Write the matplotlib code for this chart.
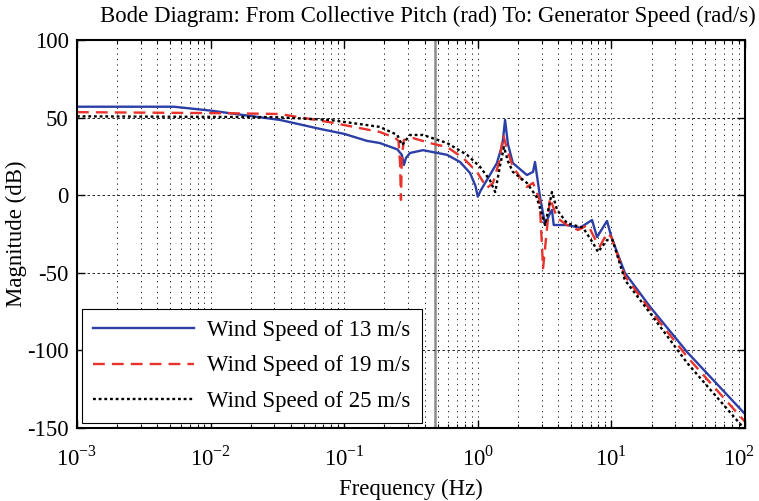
import matplotlib
matplotlib.use("Agg")
import matplotlib.pyplot as plt
import matplotlib.transforms as mtransforms
from matplotlib.ticker import LogLocator, FixedLocator, NullFormatter
import numpy as np

plt.rcParams['font.family'] = 'Liberation Serif'
plt.rcParams['mathtext.fontset'] = 'custom'
plt.rcParams['mathtext.rm'] = 'Liberation Serif'
plt.rcParams['axes.unicode_minus'] = False

# frequency (Hz) / magnitude (dB)
f_13 = [0.001, 0.0053, 0.01, 0.02, 0.033, 0.066, 0.1, 0.148, 0.185, 0.25, 0.27, 0.28,
        0.29, 0.311, 0.389, 0.589, 0.736, 0.875, 0.96, 1.0, 1.05, 1.17, 1.39, 1.53,
        1.60, 1.68, 1.83, 2.33, 2.59, 2.68, 2.92, 3.19, 3.45, 3.59, 3.7, 4.65, 5.82,
        7.16, 7.8, 9.27, 10.0, 12.6, 19.5, 36.8, 100]
m_13 = [57, 57, 54.5, 51, 48.5, 42.7, 39.5, 35, 33.6, 29.5, 26, 19.5,
        24, 27.2, 29, 26, 21.4, 14.3, 6, -1, 3, 9.8, 20.7, 33,
        48.5, 33, 20.7, 13, 15, 21.4, -1, -19, -12, -9.5, -19.2, -19.2, -21,
        -16, -27, -16.6, -27, -50, -72, -101, -141]

f_19 = [0.001, 0.014, 0.033, 0.078, 0.185, 0.24, 0.255, 0.262, 0.266, 0.27, 0.28,
        0.327, 0.438, 0.589, 0.776, 0.986, 1.17, 1.3, 1.45, 1.55, 1.65, 1.83, 2.33,
        2.59, 2.9, 3.08, 3.47, 3.92, 4.65, 5.62, 6.68, 7.8, 8.2, 9.27, 10.0, 12.6,
        19.5, 36.8, 100]
m_19 = [53.5, 52.8, 52.3, 47, 40.7, 37, 35, 20, -3, 25, 35.6,
        36.8, 33.6, 31, 24, 15, 4.6, 7.9, 22, 38.8, 30, 18.2, 5.3,
        7.9, -3, -47, -1.8, -14.7, -19.2, -22.4, -19.2, -30.8, -33, -24.4, -27, -52,
        -74, -104, -146]

f_25 = [0.001, 0.03, 0.078, 0.185, 0.25, 0.271, 0.311, 0.389, 0.589, 0.83, 1.04,
        1.23, 1.35, 1.47, 1.57, 1.68, 1.83, 2.33, 2.75, 3.19, 3.59, 3.92, 4.65, 6.14,
        7.28, 7.94, 9.27, 10.2, 12.6, 19.5, 36.8, 100]
m_25 = [50.8, 50.3, 48.5, 44, 38.8, 32.3, 38.8, 38.8, 33.6, 26, 18.2,
        9.8, 2, 19.5, 31, 22, 15, 7.9, -1, -19.2, 2, -9.5, -18, -21,
        -30.8, -36.6, -28.9, -28.9, -54.6, -76, -108, -151]

labels = ['Wind Speed of 13 m/s', 'Wind Speed of 19 m/s', 'Wind Speed of 25 m/s']
x_ticks = [1e-3, 1e-2, 1e-1, 1e0, 1e1, 1e2]
x_ticklabels = ['$10^{-3}$', '$10^{-2}$', '$10^{-1}$', '$10^{0}$', '$10^{1}$', '$10^{2}$']
y_ticks = [-150, -100, -50, 0, 50, 100]

FS = 16.4

fig = plt.figure(figsize=(7.59, 5.01), dpi=100)
ax = fig.add_axes([0.1014, 0.1457, 0.8802, 0.7745])

ax.plot(f_13, m_13, color='#2b3fa6', lw=1.7, label=labels[0])
ax.plot(f_19, m_19, color='#e8322b', lw=1.7, ls=(0, (5, 3)), label=labels[1])
ax.plot(f_25, m_25, color='black', lw=1.7, ls=(0, (1.2, 1.2)), label=labels[2])
ax.axvline(0.479, color='#8c8c8c', lw=1.8, zorder=1)

ax.set_xscale('log')
ax.set_xlim(1e-3, 1e2)
ax.set_ylim(-150, 100)
ax.yaxis.set_major_locator(FixedLocator(y_ticks))
ax.set_xticks(x_ticks, x_ticklabels)
ax.xaxis.set_minor_locator(LogLocator(base=10, subs=np.arange(2, 10), numticks=20))
ax.xaxis.set_minor_formatter(NullFormatter())

ax.grid(True, which='major', axis='y', color='black', lw=0.6, ls=(0, (3, 3)))
ax.grid(True, which='both', axis='x', color='black', lw=0.6, ls=(0, (1.5, 5)))

ax.tick_params(which='both', direction='in', top=True, right=True, labelsize=FS)
ax.tick_params(which='major', length=6, width=1)
ax.tick_params(which='minor', length=3, width=0.8)
ax.tick_params(axis='x', which='major', pad=13)
ax.tick_params(axis='y', which='major', pad=6)
for s in ax.spines.values():
    s.set_linewidth(1.5)

ax.set_xlabel('Frequency (Hz)', fontsize=FS, labelpad=6)
ax.set_ylabel('Magnitude (dB)', fontsize=FS, labelpad=0)
fig.text(428 / 759, 1 - 22 / 501,
         'Bode Diagram: From Collective Pitch (rad) To: Generator Speed (rad/s)',
         fontsize=FS, ha='center', va='baseline')

leg = ax.legend(loc='lower left', fontsize=FS, fancybox=False, framealpha=1,
                edgecolor='black', handlelength=4.4, handletextpad=0.6,
                borderpad=0.5, borderaxespad=0.22, labelspacing=0.62)
leg.get_frame().set_linewidth(0.8)

# nudge the 10^2 label so it stays inside the figure
last = ax.xaxis.get_major_ticks()[-1].label1
last.set_transform(last.get_transform() +
                   mtransforms.ScaledTranslation(-4 / 72, 0, fig.dpi_scale_trans))

fig.savefig('out.png', dpi=100)
